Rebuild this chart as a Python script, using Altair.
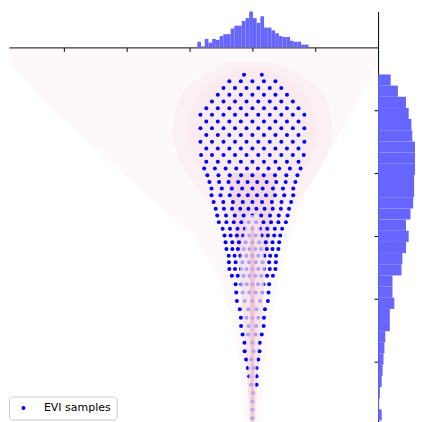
import altair as alt
import pandas as pd

# ---------------- EVI samples (rows of y, with x positions) ----------------
row_y = [7.70, 7.38, 7.06, 6.74, 6.42, 6.10, 5.78, 5.46, 5.14, 4.82, 4.50, 4.18,
         3.86, 3.54, 3.22, 2.90, 2.58, 2.26, 1.94, 1.62, 1.30, 0.98, 0.66, 0.34,
         0.02, -0.30, -0.62, -0.94, -1.26, -1.58, -1.90, -2.30, -2.70, -3.10,
         -3.50, -3.90, -4.30, -4.70, -5.10, -5.50, -5.90, -6.30, -6.70, -7.10,
         -7.50, -7.90, -8.30, -8.70]
row_x = [
    [-0.40, 0.45],
    [-1.10, -0.55, 0.00, 0.55, 1.10],
    [-1.38, -0.83, -0.28, 0.28, 0.83, 1.38],
    [-1.65, -1.10, -0.55, 0.00, 0.55, 1.10, 1.65],
    [-1.93, -1.38, -0.83, -0.28, 0.28, 0.83, 1.38, 1.93],
    [-2.20, -1.65, -1.10, -0.55, 0.00, 0.55, 1.10, 1.65, 2.20],
    [-2.48, -1.93, -1.38, -0.83, -0.28, 0.28, 0.83, 1.38, 1.93, 2.48],
    [-2.20, -1.65, -1.10, -0.55, 0.00, 0.55, 1.10, 1.65, 2.20],
    [-2.48, -1.93, -1.38, -0.83, -0.28, 0.28, 0.83, 1.38, 1.93, 2.48],
    [-2.20, -1.65, -1.10, -0.55, 0.00, 0.55, 1.10, 1.65, 2.20],
    [-2.48, -1.93, -1.38, -0.83, -0.28, 0.28, 0.83, 1.38, 1.93, 2.48],
    [-2.20, -1.65, -1.10, -0.55, 0.00, 0.55, 1.10, 1.65, 2.20],
    [-2.45, -1.93, -1.38, -0.83, -0.28, 0.28, 0.83, 1.38, 1.93, 2.45],
    [-2.20, -1.65, -1.10, -0.55, 0.00, 0.55, 1.10, 1.65, 2.20],
    [-2.30, -1.79, -1.28, -0.77, -0.26, 0.26, 0.77, 1.28, 1.79, 2.30],
    [-2.15, -1.62, -1.08, -0.54, 0.00, 0.54, 1.08, 1.62, 2.15],
    [-2.05, -1.59, -1.14, -0.68, -0.23, 0.23, 0.68, 1.14, 1.59, 2.05],
    [-1.95, -1.46, -0.98, -0.49, 0.00, 0.49, 0.98, 1.46, 1.95],
    [-1.95, -1.52, -1.08, -0.65, -0.22, 0.22, 0.65, 1.08, 1.52, 1.95],
    [-1.85, -1.39, -0.93, -0.46, 0.00, 0.46, 0.93, 1.39, 1.85],
    [-1.75, -1.36, -0.97, -0.58, -0.19, 0.19, 0.58, 0.97, 1.36, 1.75],
    [-1.68, -1.26, -0.84, -0.42, 0.00, 0.42, 0.84, 1.26, 1.68],
    [-1.60, -1.24, -0.89, -0.53, -0.18, 0.18, 0.53, 0.89, 1.24, 1.60],
    [-1.42, -1.07, -0.71, -0.36, 0.00, 0.36, 0.71, 1.07, 1.42],
    [-1.33, -1.04, -0.74, -0.44, -0.15, 0.15, 0.44, 0.74, 1.04, 1.33],
    [-1.28, -0.96, -0.64, -0.32, 0.00, 0.32, 0.64, 0.96, 1.28],
    [-1.24, -0.96, -0.69, -0.41, -0.14, 0.14, 0.41, 0.69, 0.96, 1.24],
    [-1.13, -0.85, -0.57, -0.28, 0.00, 0.28, 0.57, 0.85, 1.13],
    [-1.12, -0.80, -0.48, -0.16, 0.16, 0.48, 0.80, 1.12],
    [-1.10, -0.83, -0.55, -0.28, 0.00, 0.28, 0.55, 0.83, 1.10],
    [-0.98, -0.70, -0.42, -0.14, 0.14, 0.42, 0.70, 0.98],
    [-0.80, -0.53, -0.27, 0.00, 0.27, 0.53, 0.80],
    [-0.77, -0.46, -0.15, 0.15, 0.46, 0.77],
    [-0.74, -0.37, 0.00, 0.37, 0.74],
    [-0.60, -0.20, 0.20, 0.60],
    [-0.55, -0.28, 0.00, 0.28, 0.55],
    [-0.54, -0.18, 0.18, 0.54],
    [-0.47, -0.20, 0.15, 0.45],
    [-0.38, 0.00, 0.35],
    [-0.37, 0.05, 0.34],
    [-0.30, -0.05, 0.28],
    [-0.22, 0.05, 0.20],
    [-0.15, 0.20],
    [-0.05, 0.20],
    [0.03],
    [0.00],
    [0.00],
    [0.00],
]

# ---------------- marginal histograms ----------------
top_edges = [-2.630, -2.453, -2.276, -2.099, -1.922, -1.745, -1.568, -1.391,
             -1.214, -1.037, -0.860, -0.683, -0.506, -0.329, -0.152, 0.025,
             0.202, 0.379, 0.556, 0.733, 0.910, 1.087, 1.264, 1.441, 1.618,
             1.795, 1.972, 2.149, 2.326, 2.503, 2.680]
top_counts = [6, 1, 9, 5, 9, 8, 12, 14, 14, 20, 23, 23, 28, 31, 42, 31, 26, 33,
              21, 21, 18, 15, 12, 11, 11, 7, 6, 6, 3, 3]

right_edges = [7.710, 7.177, 6.644, 6.111, 5.578, 5.045, 4.512, 3.979, 3.446,
               2.913, 2.380, 1.847, 1.314, 0.781, 0.248, -0.285, -0.818,
               -1.351, -1.884, -2.417, -2.950, -3.483, -4.016, -4.549, -5.082,
               -5.615, -6.148, -6.681, -7.214, -7.747, -8.280, -8.813]
right_counts = [14, 22, 31, 34, 37, 38, 41, 43, 41, 40, 40, 39, 36, 31, 34, 31,
                27, 26, 16, 16, 18, 13, 13, 8, 7, 6, 5, 4, 2, 1, 4]

# ---------------- density contour bands (y, left, right) ----------------
band_a_y = [9.0, 8.2, 6.0, 4.0, 2.0, 0.0, -2.0, -4.0, -6.0, -9.0]
band_a_lo = [-11.6, -11.6, -9.5, -7.3, -5.1, -2.8, -1.6, -1.0, -0.6, -0.35]
band_a_hi = [6.0, 6.0, 4.8, 3.7, 2.5, 1.8, 1.3, 0.9, 0.6, 0.35]

band_b1_y = [8.3, 7.5, 6.5, 5.0, 3.5, 2.0, 0.5, -1.0]
band_b1_lo = [-1.0, -2.6, -3.5, -3.8, -3.4, -2.4, -1.4, -0.9]
band_b1_hi = [1.0, 2.6, 3.5, 3.8, 3.4, 2.4, 1.4, 0.9]

band_b2_y = [8.0, 7.3, 6.3, 5.0, 3.8, 2.5, 1.0, -0.5]
band_b2_lo = [-0.7, -2.0, -2.8, -3.1, -2.8, -2.0, -1.2, -0.8]
band_b2_hi = [0.7, 2.0, 2.8, 3.1, 2.8, 2.0, 1.2, 0.8]

band_c_y = [3.0, 1.5, 0.0, -1.5, -3.0, -4.5, -6.0, -7.5, -9.0]
band_c_lo = [-1.2, -1.0, -0.8, -0.65, -0.5, -0.4, -0.3, -0.2, -0.12]
band_c_hi = [1.2, 1.0, 0.8, 0.65, 0.5, 0.4, 0.3, 0.2, 0.12]

band_d_y = [1.0, -0.5, -1.5, -3.0, -4.5, -5.5, -7.0, -9.0]
band_d_lo = [-0.25, -0.5, -0.6, -0.52, -0.35, -0.25, -0.15, -0.1]
band_d_hi = [0.25, 0.5, 0.6, 0.52, 0.35, 0.25, 0.15, 0.1]

band_e_y = [0.5, -1.5, -3.0, -6.0, -9.0]
band_e_lo = [-0.06, -0.12, -0.12, -0.08, -0.05]
band_e_hi = [0.06, 0.12, 0.12, 0.08, 0.05]

# visible part of the main axes (page margin hides a sliver on the left)
X_DOM = [-11.619, 6]
Y_DOM = [-9, 9]

pts = []
for yv, xs in zip(row_y, row_x):
    for xv in xs:
        pts.append({"x": xv, "y": yv, "label": "EVI samples"})
pts_df = pd.DataFrame(pts)


def band(ys, los, his):
    return pd.DataFrame({"yy": ys, "lo": los, "hi": his})


xs_main = alt.Scale(domain=X_DOM, nice=False, zero=False)
ys_main = alt.Scale(domain=Y_DOM, nice=False, zero=False)


def band_layer(df, color, opacity, interp="monotone"):
    return alt.Chart(df).mark_area(orient="horizontal", color=color, fillOpacity=opacity,
                                   interpolate=interp).encode(
        y=alt.Y("yy:Q", scale=ys_main, axis=None),
        x=alt.X("lo:Q", scale=xs_main, axis=None),
        x2=alt.X2("hi:Q"),
    )


layer_a = band_layer(band(band_a_y, band_a_lo, band_a_hi), "#e0a0bc", 0.08, "linear")
layer_b1 = band_layer(band(band_b1_y, band_b1_lo, band_b1_hi), "#e0a0bc", 0.07)
layer_b2 = band_layer(band(band_b2_y, band_b2_lo, band_b2_hi), "#e0a0bc", 0.07)
layer_c = band_layer(band(band_c_y, band_c_lo, band_c_hi), "#d98aad", 0.20)

points = alt.Chart(pts_df).mark_point(filled=True, size=16, opacity=1).encode(
    x=alt.X("x:Q", scale=xs_main, axis=None),
    y=alt.Y("y:Q", scale=ys_main, axis=None),
    color=alt.Color("label:N", scale=alt.Scale(domain=["EVI samples"], range=["#0000ff"]),
                    legend=alt.Legend(title=None, orient="none", legendX=0, legendY=386,
                                      symbolType="circle", symbolSize=16,
                                      labelFontSize=11, labelFont="DejaVu Sans",
                                      labelColor="#000000",
                                      strokeColor="#cccccc", fillColor="#ffffff",
                                      cornerRadius=3, padding=6, symbolOffset=3,
                                      labelOffset=15)),
)

layer_d = band_layer(band(band_d_y, band_d_lo, band_d_hi), "#f7e6ee", 0.7)
layer_e = band_layer(band(band_e_y, band_e_lo, band_e_hi), "#e2a8c0", 0.5)

main = alt.layer(layer_a, layer_b1, layer_b2, layer_c, points, layer_d, layer_e).properties(
    width=370, height=378)

axis_style = dict(labels=False, title=None, grid=False, tickSize=4, tickColor="#000000",
                  domainColor="#000000", domainWidth=1, tickWidth=1)

top_df = pd.DataFrame({"lo": top_edges[:-1], "hi": top_edges[1:], "count": top_counts})
top = alt.Chart(top_df).mark_rect(color="#6666ff").encode(
    x=alt.X("lo:Q", scale=xs_main, axis=alt.Axis(values=[-9, -6, -3, 0, 3], **axis_style)),
    x2="hi:Q",
    y=alt.Y("count:Q", scale=alt.Scale(domain=[0, 38], nice=False, clamp=True), axis=None),
    y2=alt.datum(0),
).properties(width=370, height=36)

corner = alt.Chart(pd.DataFrame({"v": [0.0, 1.0]})).mark_point(opacity=0).encode(
    y=alt.Y("v:Q", axis=alt.Axis(values=[], ticks=False, labels=False, title=None, grid=False,
                                 domainColor="#000000", domainWidth=1)),
).properties(width=37, height=36)

right_df = pd.DataFrame({"hi": right_edges[:-1], "lo": right_edges[1:], "count": right_counts})
right = alt.Chart(right_df).mark_rect(color="#6666ff").encode(
    y=alt.Y("lo:Q", scale=ys_main, axis=alt.Axis(values=[-6, -3, 0, 3, 6], **axis_style)),
    y2="hi:Q",
    x=alt.X("count:Q", scale=alt.Scale(domain=[0, 41], nice=False, clamp=True), axis=None),
    x2=alt.datum(0),
).properties(width=37, height=378)

chart = alt.concat(top, corner, main, right, columns=2, spacing=0, bounds="flush").properties(
    padding=0, background="#ffffff"
).configure_view(stroke=None)

chart.save("out.html", embed_options={"renderer": "svg", "actions": False})
